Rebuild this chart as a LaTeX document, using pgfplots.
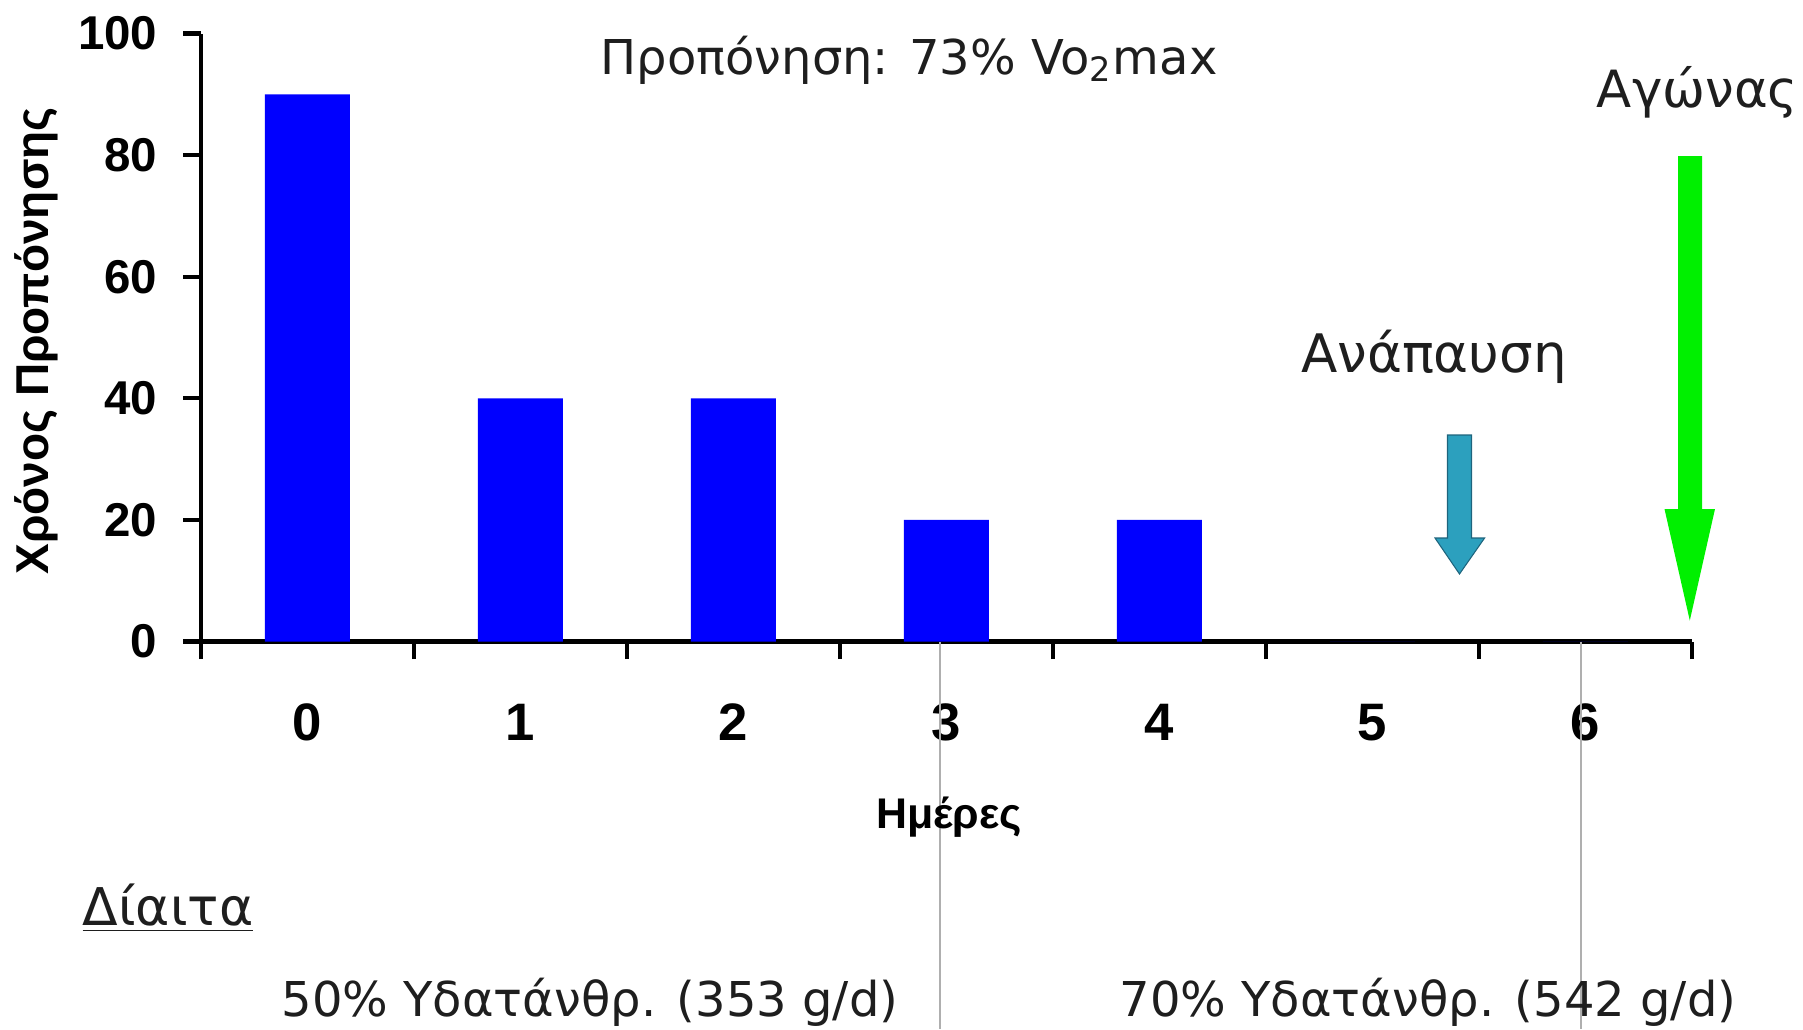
\documentclass[border=0pt]{standalone}
\usepackage{pgfplots}
\pgfplotsset{compat=1.18}
\usepackage{fontspec}
\setmainfont{DejaVu Sans}
\newfontfamily\arialfont{Liberation Sans}

\definecolor{barblue}{RGB}{0,0,255}
\definecolor{restblue}{RGB}{44,160,190}
\definecolor{restedge}{RGB}{30,100,125}
\definecolor{racegreen}{RGB}{0,240,0}
\definecolor{guide}{RGB}{175,175,175}
\definecolor{txt}{RGB}{30,30,30}

\begin{document}
\begin{tikzpicture}
% overall canvas
\path[use as bounding box] (-20.1mm,-38.75mm) rectangle (160.2mm,64.15mm);

\begin{axis}[
  at={(0,0)}, anchor=south west,
  scale only axis, width=149.1mm, height=60.8mm,
  xmin=-0.5, xmax=6.5, ymin=0, ymax=100,
  axis lines=left,
  axis line style={-, line width=1.2pt, black},
  xtick={0,1,2,3,4,5,6},
  ytick={0,20,40,60,80,100},
  minor xtick={-0.5,0.5,1.5,2.5,3.5,4.5,5.5,6.5},
  minor ytick={0,20,40,60,80,100},
  major tick length=0pt, minor tick length=1.75mm,
  tick align=outside,
  every tick/.style={black, line width=1.2pt},
  /pgf/number format/assume math mode=true,
  xticklabel style={anchor=base, inner sep=0pt, yshift=-9.85mm,
    font=\arialfont\bfseries\fontsize{15}{17}\selectfont},
  yticklabel style={anchor=east, inner sep=0pt, xshift=-4.3mm,
    font=\arialfont\bfseries\fontsize{13.5}{15}\selectfont},
  clip=false,
]
  % diet phase dividers
  \draw[guide, line width=0.18mm] (axis cs:2.97,0) -- (axis cs:2.97,-63.8);
  \draw[guide, line width=0.18mm] (axis cs:5.98,0) -- (axis cs:5.98,-63.8);

  % training time per day
  \addplot[ybar, bar width=8.5mm, fill=barblue, draw=none]
    coordinates {(0,90) (1,40) (2,40) (3,20) (4,20) (5,0) (6,0)};
\end{axis}

% rest-day arrow
\filldraw[fill=restblue, draw=restedge, line width=0.3pt]
  (124.65mm,20.65mm) -- (127.05mm,20.65mm) -- (127.05mm,10.35mm) --
  (128.36mm,10.35mm) -- (125.85mm,6.75mm) -- (123.40mm,10.35mm) --
  (124.65mm,10.35mm) -- cycle;

% race-day arrow
\fill[racegreen]
  (147.70mm,48.55mm) -- (150.10mm,48.55mm) -- (150.10mm,13.25mm) --
  (151.40mm,13.25mm) -- (148.88mm,2.10mm) -- (146.35mm,13.25mm) --
  (147.70mm,13.25mm) -- cycle;

% labels
\begin{scope}[every node/.style={inner sep=0pt, text=txt, font=\fontsize{13.66}{16}\selectfont}]
  \node[anchor=base] at (70.8mm,56.75mm) {Προπόνηση: 73\% Vo\textsubscript{2}max};
  \node[anchor=base, font=\fontsize{15.1}{17}\selectfont] at (123.3mm,26.95mm) {Ανάπαυση};
  \node[anchor=base, font=\fontsize{14.6}{17}\selectfont] at (149.65mm,53.45mm) {Αγώνας};
  \node[anchor=base west, font=\fontsize{14.8}{17}\selectfont] at (-11.9mm,-28.35mm) {\underline{Δίαιτα}};
  \node[anchor=base] at (38.9mm,-37.5mm) {50\% Υδατάνθρ. (353 g/d)};
  \node[anchor=base] at (122.7mm,-37.5mm) {70\% Υδατάνθρ. (542 g/d)};
\end{scope}

\node[anchor=base, inner sep=0pt, font=\arialfont\bfseries\fontsize{12.2}{14}\selectfont]
  at (74.8mm,-18.65mm) {Ημέρες};
\node[anchor=base, rotate=90, inner sep=0pt, font=\arialfont\bfseries\fontsize{13.1}{15}\selectfont]
  at (-15.2mm,30.05mm) {Χρόνος Προπόνησης};
\end{tikzpicture}
\end{document}
